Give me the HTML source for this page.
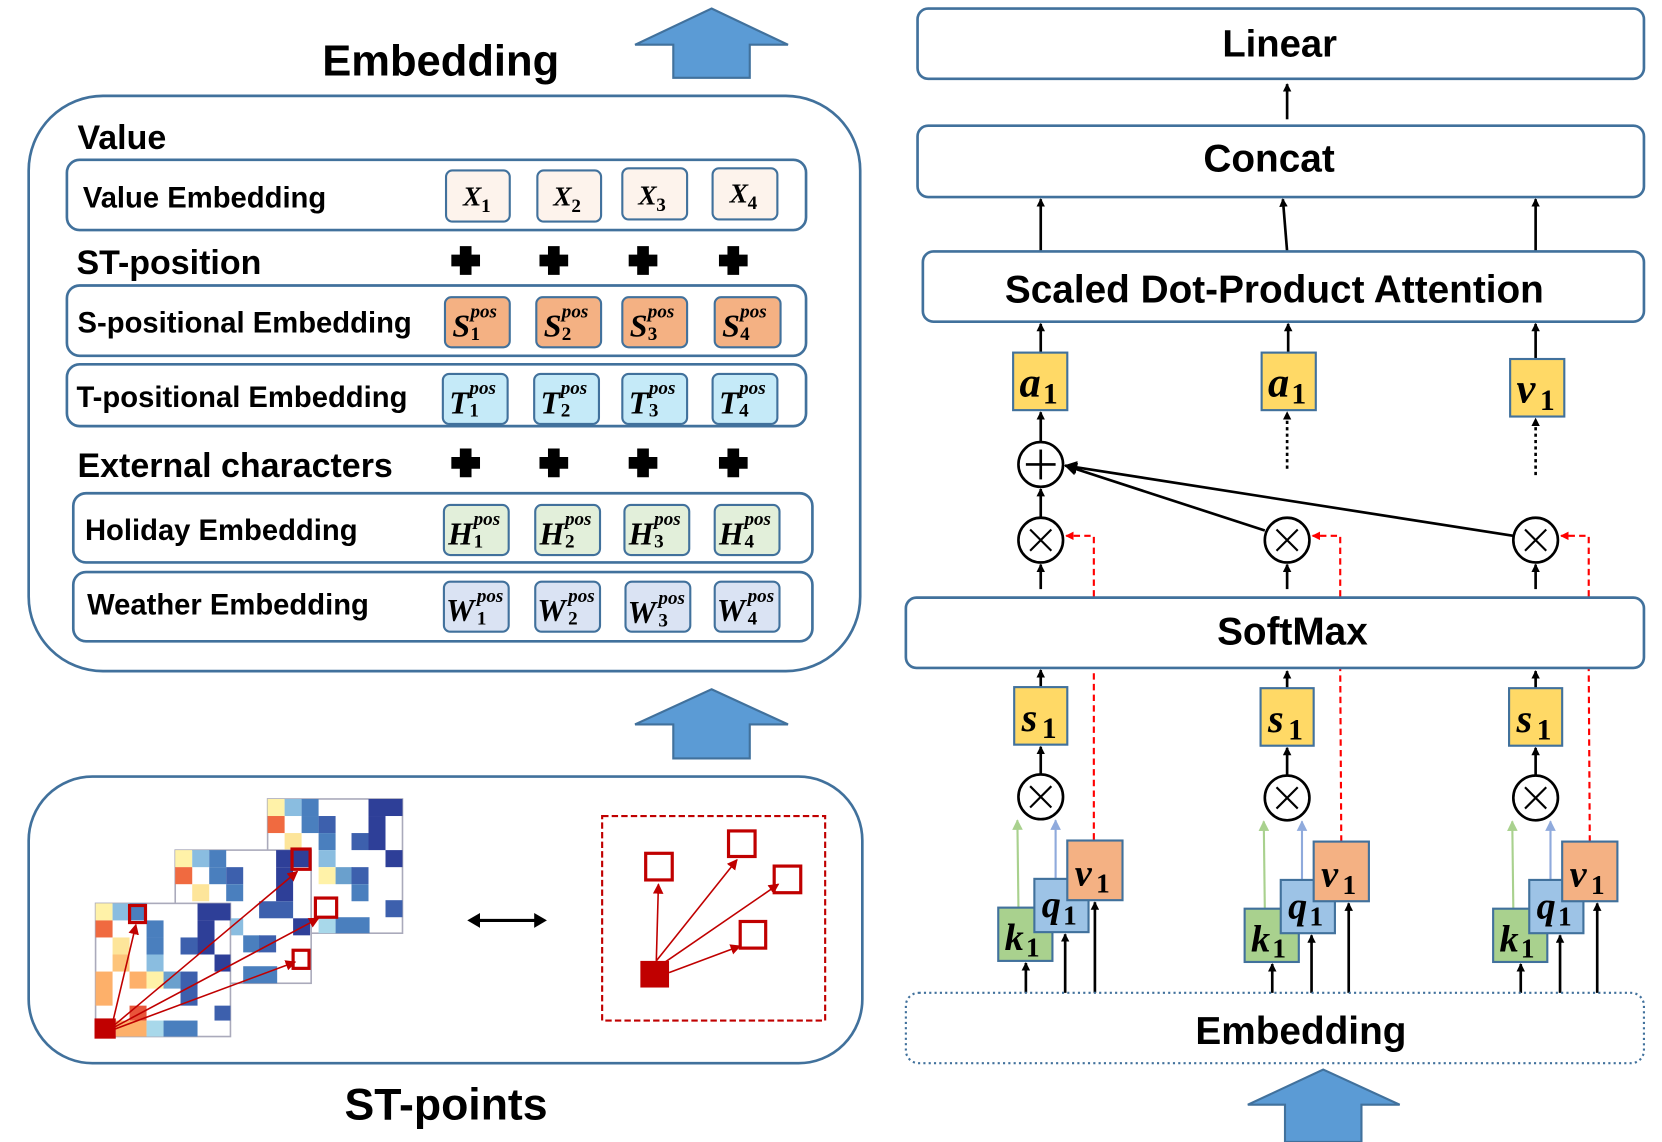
<!DOCTYPE html>
<html><head><meta charset="utf-8"><style>
html,body{margin:0;padding:0;background:#fff;}
svg{display:block;}
.t{font-family:"Liberation Sans",sans-serif;font-weight:bold;fill:#000;}
.m{font-family:"Liberation Serif",serif;font-style:italic;font-weight:bold;fill:#000;}
.n{font-family:"Liberation Serif",serif;font-weight:bold;fill:#000;}
.bx{stroke:#41719c;stroke-width:2.5;fill:#fff;}
.sb{stroke:#41719c;stroke-width:2;}
</style></head><body>
<svg width="1662" height="1142" viewBox="0 0 1565 1072" preserveAspectRatio="none" xmlns="http://www.w3.org/2000/svg">
<defs>
<marker id="ah" markerWidth="8" markerHeight="8" refX="7" refY="4" orient="auto" markerUnits="userSpaceOnUse"><path d="M0,0 L8,4 L0,8 z" fill="#000"/></marker>
<marker id="ar" markerWidth="8" markerHeight="8" refX="7" refY="4" orient="auto" markerUnits="userSpaceOnUse"><path d="M0,0 L8,4 L0,8 z" fill="#f00"/></marker>
<marker id="ag" markerWidth="10" markerHeight="10" refX="9" refY="5" orient="auto" markerUnits="userSpaceOnUse"><path d="M0,0 L10,5 L0,10 z" fill="#a9d18e"/></marker>
<marker id="ab" markerWidth="10" markerHeight="10" refX="9" refY="5" orient="auto" markerUnits="userSpaceOnUse"><path d="M0,0 L10,5 L0,10 z" fill="#8faadc"/></marker>
<marker id="ad" markerWidth="10" markerHeight="10" refX="9" refY="5" orient="auto" markerUnits="userSpaceOnUse"><path d="M0,0 L10,5 L0,10 z" fill="#c00000"/></marker>
<marker id="ak" markerWidth="12" markerHeight="12" refX="11" refY="6" orient="auto" markerUnits="userSpaceOnUse"><path d="M0,0 L12,6 L0,12 z" fill="#000"/></marker>
</defs>

<!-- ===== LEFT ===== -->
<polygon points="670,8 742,42 706,42 706,73 634,73 634,42 598,42" fill="#5b9bd5" stroke="#41719c" stroke-width="2"/>
<text class="t" x="415" y="71" font-size="41" text-anchor="middle">Embedding</text>
<rect class="bx" x="27" y="90" width="783" height="540" rx="70"/>
<text class="t" x="73" y="140" font-size="32">Value</text>

<rect class="bx" x="63" y="150" width="696" height="66" rx="12"/>
<text class="t" x="78" y="195" font-size="27.5">Value Embedding</text>
<g class="sb" fill="#fdf3ec">
<rect x="420" y="160" width="60" height="48" rx="6"/><rect x="506" y="160" width="60" height="48" rx="6"/><rect x="586" y="158" width="61" height="48" rx="6"/><rect x="671" y="158" width="61" height="48" rx="6"/></g>
<g font-size="26">
<text class="m" x="436" y="193">X</text><text class="n" x="453" y="199" font-size="18">1</text>
<text class="m" x="521" y="193">X</text><text class="n" x="538" y="199" font-size="18">2</text>
<text class="m" x="601" y="192">X</text><text class="n" x="618" y="198" font-size="18">3</text>
<text class="m" x="687" y="190">X</text><text class="n" x="704" y="196" font-size="18">4</text></g>

<text class="t" x="72" y="257" font-size="32">ST-position</text>
<g fill="#000">
<path d="M433,231h11v8h8v11h-8v8h-11v-8h-8v-11h8z"/>
<path d="M516,231h11v8h8v11h-8v8h-11v-8h-8v-11h8z"/>
<path d="M600,231h11v8h8v11h-8v8h-11v-8h-8v-11h8z"/>
<path d="M685,231h11v8h8v11h-8v8h-11v-8h-8v-11h8z"/>
<path d="M433,421h11v8h8v11h-8v8h-11v-8h-8v-11h8z"/>
<path d="M516,421h11v8h8v11h-8v8h-11v-8h-8v-11h8z"/>
<path d="M600,421h11v8h8v11h-8v8h-11v-8h-8v-11h8z"/>
<path d="M685,421h11v8h8v11h-8v8h-11v-8h-8v-11h8z"/>
</g>

<rect class="bx" x="63" y="268" width="696" height="66" rx="12"/>
<text class="t" x="73" y="312" font-size="27.5">S-positional Embedding</text>
<g class="sb" fill="#f4b183">
<rect x="419" y="279" width="61" height="47" rx="6"/><rect x="505" y="279" width="61" height="47" rx="6"/><rect x="586" y="279" width="61" height="47" rx="6"/><rect x="673" y="279" width="62" height="47" rx="6"/></g>
<g>
<text class="m" x="426" y="316" font-size="30">S</text><text class="m" x="443" y="298" font-size="18">pos</text><text class="n" x="443" y="319" font-size="18">1</text>
<text class="m" x="512" y="316" font-size="30">S</text><text class="m" x="529" y="298" font-size="18">pos</text><text class="n" x="529" y="319" font-size="18">2</text>
<text class="m" x="593" y="316" font-size="30">S</text><text class="m" x="610" y="298" font-size="18">pos</text><text class="n" x="610" y="319" font-size="18">3</text>
<text class="m" x="680" y="316" font-size="30">S</text><text class="m" x="697" y="298" font-size="18">pos</text><text class="n" x="697" y="319" font-size="18">4</text>
</g>

<rect class="bx" x="63" y="342" width="696" height="58" rx="12"/>
<text class="t" x="72" y="382" font-size="27.5">T-positional Embedding</text>
<g class="sb" fill="#c5eaf8">
<rect x="417" y="351" width="61" height="47" rx="6"/><rect x="503" y="351" width="61" height="47" rx="6"/><rect x="586" y="351" width="61" height="47" rx="6"/><rect x="671" y="351" width="61" height="47" rx="6"/></g>
<g>
<text class="m" x="423" y="388" font-size="30">T</text><text class="m" x="442" y="370" font-size="18">pos</text><text class="n" x="442" y="391" font-size="18">1</text>
<text class="m" x="509" y="388" font-size="30">T</text><text class="m" x="528" y="370" font-size="18">pos</text><text class="n" x="528" y="391" font-size="18">2</text>
<text class="m" x="592" y="388" font-size="30">T</text><text class="m" x="611" y="370" font-size="18">pos</text><text class="n" x="611" y="391" font-size="18">3</text>
<text class="m" x="677" y="388" font-size="30">T</text><text class="m" x="696" y="370" font-size="18">pos</text><text class="n" x="696" y="391" font-size="18">4</text>
</g>

<text class="t" x="73" y="448" font-size="32">External characters</text>

<rect class="bx" x="69" y="463" width="696" height="65" rx="12"/>
<text class="t" x="80" y="507" font-size="27.5">Holiday Embedding</text>
<g class="sb" fill="#e2efda">
<rect x="418" y="474" width="61" height="47" rx="6"/><rect x="504" y="474" width="61" height="47" rx="6"/><rect x="588" y="474" width="61" height="47" rx="6"/><rect x="673" y="474" width="61" height="47" rx="6"/></g>
<g>
<text class="m" x="422" y="511" font-size="30">H</text><text class="m" x="446" y="493" font-size="18">pos</text><text class="n" x="446" y="514" font-size="18">1</text>
<text class="m" x="508" y="511" font-size="30">H</text><text class="m" x="532" y="493" font-size="18">pos</text><text class="n" x="532" y="514" font-size="18">2</text>
<text class="m" x="592" y="511" font-size="30">H</text><text class="m" x="616" y="493" font-size="18">pos</text><text class="n" x="616" y="514" font-size="18">3</text>
<text class="m" x="677" y="511" font-size="30">H</text><text class="m" x="701" y="493" font-size="18">pos</text><text class="n" x="701" y="514" font-size="18">4</text>
</g>

<rect class="bx" x="69" y="537" width="696" height="65" rx="12"/>
<text class="t" x="82" y="577" font-size="27.5">Weather Embedding</text>
<g class="sb" fill="#dae3f3">
<rect x="418" y="546" width="61" height="47" rx="6"/><rect x="504" y="546" width="61" height="47" rx="6"/><rect x="589" y="546" width="61" height="47" rx="6"/><rect x="673" y="546" width="61" height="47" rx="6"/></g>
<g>
<text class="m" x="420" y="583" font-size="30">W</text><text class="m" x="449" y="565" font-size="18">pos</text><text class="n" x="449" y="586" font-size="18">1</text>
<text class="m" x="506" y="583" font-size="30">W</text><text class="m" x="535" y="565" font-size="18">pos</text><text class="n" x="535" y="586" font-size="18">2</text>
<text class="m" x="591" y="585" font-size="30">W</text><text class="m" x="620" y="567" font-size="18">pos</text><text class="n" x="620" y="588" font-size="18">3</text>
<text class="m" x="675" y="583" font-size="30">W</text><text class="m" x="704" y="565" font-size="18">pos</text><text class="n" x="704" y="586" font-size="18">4</text>
</g>

<polygon points="670,647 742,680 706,680 706,712 634,712 634,680 598,680" fill="#5b9bd5" stroke="#41719c" stroke-width="2"/>

<rect class="bx" x="27" y="729" width="785" height="269" rx="60"/>
<g>
<rect x="252" y="750" width="127" height="126" fill="#fff" stroke="#aab" stroke-width="1.5"/>
<rect x="252" y="750" width="16" height="16" fill="#fff2a8"/><rect x="268" y="750" width="16" height="16" fill="#8abde0"/><rect x="284" y="750" width="16" height="16" fill="#4a7fbe"/>
<rect x="347" y="750" width="32" height="16" fill="#2e3f98"/><rect x="252" y="766" width="16" height="16" fill="#f06a40"/><rect x="284" y="766" width="16" height="16" fill="#4a7fbe"/><rect x="300" y="766" width="16" height="16" fill="#3d60ad"/>
<rect x="347" y="766" width="16" height="32" fill="#2e3f98"/><rect x="268" y="782" width="16" height="16" fill="#fde59a"/><rect x="300" y="782" width="16" height="16" fill="#4a7fbe"/><rect x="331" y="782" width="16" height="16" fill="#3d60ad"/>
<rect x="363" y="798" width="16" height="16" fill="#2e3f98"/><rect x="300" y="798" width="16" height="16" fill="#8abde0"/><rect x="300" y="814" width="16" height="16" fill="#fff2a8"/><rect x="316" y="814" width="16" height="16" fill="#6aa0cd"/><rect x="331" y="814" width="16" height="16" fill="#3d60ad"/>
<rect x="363" y="845" width="16" height="16" fill="#3d60ad"/><rect x="331" y="830" width="16" height="16" fill="#4a7fbe"/><rect x="300" y="861" width="16" height="15" fill="#a8d8ea"/><rect x="316" y="861" width="32" height="15" fill="#4a7fbe"/>
</g>
<g>
<rect x="165" y="798" width="128" height="125" fill="#fff" stroke="#aab" stroke-width="1.5"/>
<rect x="165" y="798" width="16" height="16" fill="#fff2a8"/><rect x="181" y="798" width="16" height="16" fill="#8abde0"/><rect x="197" y="798" width="16" height="16" fill="#4a7fbe"/>
<rect x="260" y="798" width="32" height="16" fill="#2e3f98"/><rect x="165" y="814" width="16" height="16" fill="#f06a40"/><rect x="197" y="814" width="16" height="16" fill="#4a7fbe"/><rect x="213" y="814" width="16" height="16" fill="#3d60ad"/>
<rect x="260" y="814" width="16" height="32" fill="#2e3f98"/><rect x="181" y="830" width="16" height="16" fill="#fde59a"/><rect x="213" y="830" width="16" height="16" fill="#4a7fbe"/><rect x="244" y="846" width="32" height="16" fill="#3d60ad"/>
<rect x="276" y="862" width="16" height="16" fill="#2e3f98"/><rect x="213" y="862" width="16" height="16" fill="#8abde0"/><rect x="229" y="878" width="16" height="16" fill="#4a7fbe"/><rect x="244" y="878" width="16" height="16" fill="#3d60ad"/>
<rect x="229" y="907" width="32" height="16" fill="#4a7fbe"/>
</g>
<g>
<rect x="90" y="848" width="127" height="125" fill="#fff" stroke="#aab" stroke-width="1.5"/>
<rect x="90" y="848" width="16" height="16" fill="#fff2a8"/><rect x="106" y="848" width="16" height="16" fill="#8abde0"/><rect x="122" y="848" width="16" height="16" fill="#4a7fbe"/>
<rect x="186" y="848" width="31" height="16" fill="#2e3f98"/><rect x="90" y="864" width="16" height="16" fill="#f06a40"/><rect x="138" y="864" width="16" height="16" fill="#4a7fbe"/>
<rect x="186" y="864" width="16" height="32" fill="#2e3f98"/><rect x="106" y="880" width="16" height="16" fill="#fde59a"/><rect x="138" y="880" width="16" height="16" fill="#4a7fbe"/><rect x="170" y="880" width="16" height="16" fill="#3d60ad"/>
<rect x="106" y="896" width="16" height="16" fill="#fdc47a"/><rect x="138" y="896" width="16" height="16" fill="#8abde0"/><rect x="202" y="896" width="15" height="16" fill="#2e3f98"/>
<rect x="90" y="912" width="16" height="32" fill="#fdb06a"/><rect x="122" y="912" width="16" height="16" fill="#fdb06a"/><rect x="138" y="912" width="16" height="16" fill="#fff2a8"/><rect x="154" y="912" width="16" height="16" fill="#6aa0cd"/><rect x="170" y="912" width="16" height="32" fill="#3d60ad"/>
<rect x="122" y="944" width="16" height="14" fill="#e8553a"/><rect x="202" y="944" width="15" height="14" fill="#3d60ad"/>
<rect x="109" y="958" width="29" height="15" fill="#fdb06a"/><rect x="138" y="958" width="16" height="15" fill="#a8d8ea"/><rect x="154" y="958" width="32" height="15" fill="#4a7fbe"/>
</g>
<g fill="none" stroke="#c00000" stroke-width="3">
<rect x="122" y="850" width="15" height="16"/><rect x="275" y="797" width="17" height="19"/><rect x="297" y="843" width="20" height="18"/><rect x="276" y="892" width="15" height="17"/>
</g>
<rect x="89" y="956" width="20" height="19" fill="#c00000"/>
<g stroke="#c00000" stroke-width="1.5">
<line x1="106" y1="960" x2="128" y2="868" marker-end="url(#ad)"/>
<line x1="108" y1="962" x2="280" y2="818" marker-end="url(#ad)"/>
<line x1="108" y1="964" x2="300" y2="862" marker-end="url(#ad)"/>
<line x1="108" y1="966" x2="278" y2="903" marker-end="url(#ad)"/>
</g>
<line x1="450" y1="864" x2="505" y2="864" stroke="#000" stroke-width="3"/>
<polygon points="440,864 452,857 452,871" fill="#000"/><polygon points="515,864 503,857 503,871" fill="#000"/>
<rect x="567" y="766" width="210" height="192" fill="none" stroke="#c00000" stroke-width="2" stroke-dasharray="6,3"/>
<g fill="none" stroke="#c00000" stroke-width="3">
<rect x="608" y="801" width="25" height="25"/><rect x="686" y="780" width="25" height="24"/><rect x="729" y="813" width="25" height="25"/><rect x="697" y="865" width="24" height="25"/>
</g>
<rect x="603" y="902" width="27" height="25" fill="#c00000"/>
<g stroke="#c00000" stroke-width="1.5">
<line x1="618" y1="902" x2="620" y2="830" marker-end="url(#ad)"/>
<line x1="618" y1="902" x2="694" y2="807" marker-end="url(#ad)"/>
<line x1="622" y1="906" x2="733" y2="830" marker-end="url(#ad)"/>
<line x1="630" y1="913" x2="697" y2="888" marker-end="url(#ad)"/>
</g>
<text class="t" x="420" y="1051" font-size="42" text-anchor="middle">ST-points</text>

<!-- ===== RIGHT ===== -->
<rect class="bx" x="864" y="8" width="684" height="66" rx="10"/>
<text class="t" x="1205" y="53" font-size="36" text-anchor="middle">Linear</text>
<line x1="1212" y1="112" x2="1212" y2="79" stroke="#000" stroke-width="2.5" marker-end="url(#ah)"/>
<rect class="bx" x="864" y="118" width="684" height="67" rx="10"/>
<text class="t" x="1195" y="161" font-size="36.5" text-anchor="middle">Concat</text>
<g stroke="#000" stroke-width="2.5">
<line x1="980" y1="236" x2="980" y2="187" marker-end="url(#ah)"/>
<line x1="1212" y1="236" x2="1208" y2="187" marker-end="url(#ah)"/>
<line x1="1446" y1="236" x2="1446" y2="187" marker-end="url(#ah)"/>
</g>
<rect class="bx" x="869" y="236" width="679" height="66" rx="10"/>
<text class="t" x="1200" y="284" font-size="36.5" text-anchor="middle">Scaled Dot-Product Attention</text>
<g stroke="#000" stroke-width="2.5">
<line x1="980" y1="331" x2="980" y2="304" marker-end="url(#ah)"/>
<line x1="1213" y1="331" x2="1213" y2="304" marker-end="url(#ah)"/>
<line x1="1446" y1="337" x2="1446" y2="304" marker-end="url(#ah)"/>
</g>
<g class="sb" fill="#ffd966">
<rect x="954" y="331" width="51" height="54"/><rect x="1188" y="331" width="51" height="54"/><rect x="1422" y="337" width="51" height="54"/>
</g>
<g>
<text class="m" x="960" y="372" font-size="40">a</text><text class="n" x="982" y="379" font-size="28">1</text>
<text class="m" x="1194" y="372" font-size="40">a</text><text class="n" x="1216" y="379" font-size="28">1</text>
<text class="m" x="1428" y="378" font-size="40">v</text><text class="n" x="1450" y="385" font-size="28">1</text>
</g>
<g stroke="#000" stroke-width="2.5" fill="#fff">
<line x1="980" y1="415" x2="980" y2="387" marker-end="url(#ah)"/>
<line x1="1212" y1="440" x2="1212" y2="387" stroke-dasharray="3,3" marker-end="url(#ah)"/>
<line x1="1446" y1="446" x2="1446" y2="393" stroke-dasharray="3,3" marker-end="url(#ah)"/>
<line x1="980" y1="486" x2="980" y2="459" marker-end="url(#ah)"/>
<line x1="1191" y1="498" x2="1003" y2="437" marker-end="url(#ak)"/>
<line x1="1425" y1="503" x2="1003" y2="437" marker-end="url(#ak)"/>
<circle cx="980" cy="436" r="21"/>
<line x1="966" y1="436" x2="994" y2="436"/><line x1="980" y1="422" x2="980" y2="450"/>
<circle cx="980" cy="507" r="21"/><circle cx="1212" cy="507" r="21"/><circle cx="1446" cy="507" r="21"/>
<path d="M970,497 L990,517 M990,497 L970,517 M1202,497 L1222,517 M1222,497 L1202,517 M1436,497 L1456,517 M1456,497 L1436,517" stroke-width="2"/>
<line x1="980" y1="553" x2="980" y2="530" marker-end="url(#ah)"/>
<line x1="1212" y1="553" x2="1212" y2="530" marker-end="url(#ah)"/>
<line x1="1446" y1="553" x2="1446" y2="530" marker-end="url(#ah)"/>
</g>
<g stroke="#f00" stroke-width="2" stroke-dasharray="6,4" fill="none">
<path d="M1030,560 V503 H1004" marker-end="url(#ar)"/>
<path d="M1262,560 V503 H1236" marker-end="url(#ar)"/>
<path d="M1496,560 V503 H1470" marker-end="url(#ar)"/>
<line x1="1030" y1="788" x2="1030" y2="628"/>
<line x1="1263" y1="790" x2="1262" y2="628"/>
<line x1="1497" y1="790" x2="1496" y2="628"/>
</g>

<rect class="bx" x="853" y="561" width="695" height="66" rx="10"/>
<text class="t" x="1217" y="605" font-size="36.5" text-anchor="middle">SoftMax</text>

<g>
<g stroke="#000" stroke-width="2.5">
<line x1="980" y1="645" x2="980" y2="629" marker-end="url(#ah)"/>
<line x1="980" y1="727" x2="980" y2="701" marker-end="url(#ah)"/>
<line x1="966" y1="932" x2="966" y2="904" marker-end="url(#ah)"/>
<line x1="1003" y1="932" x2="1003" y2="877" marker-end="url(#ah)"/>
<line x1="1031" y1="932" x2="1031" y2="847" marker-end="url(#ah)"/>
</g>
<rect class="sb" x="955" y="645" width="50" height="54" fill="#ffd966"/>
<text class="m" x="962" y="686" font-size="38">s</text><text class="n" x="981" y="693" font-size="28">1</text>
<circle cx="980" cy="748" r="21" fill="#fff" stroke="#000" stroke-width="2.5"/>
<path d="M970,738 L990,758 M990,738 L970,758" stroke="#000" stroke-width="2"/>
<line x1="959" y1="852" x2="958" y2="770" stroke="#a9d18e" stroke-width="2" marker-end="url(#ag)"/>
<line x1="994" y1="825" x2="994" y2="770" stroke="#8faadc" stroke-width="2" marker-end="url(#ab)"/>
<rect class="sb" x="940" y="852" width="51" height="50" fill="#a9d18e"/>
<rect class="sb" x="974" y="825" width="51" height="50" fill="#9dc3e6"/>
<rect class="sb" x="1005" y="789" width="52" height="56" fill="#f4b183"/>
<text class="m" x="946" y="892" font-size="36">k</text><text class="n" x="966" y="898" font-size="26">1</text>
<text class="m" x="981" y="861" font-size="36">q</text><text class="n" x="1001" y="868" font-size="26">1</text>
<text class="m" x="1012" y="831" font-size="36">v</text><text class="n" x="1032" y="838" font-size="26">1</text>
</g>
<g transform="translate(232,1)">
<g stroke="#000" stroke-width="2.5">
<line x1="980" y1="645" x2="980" y2="629" marker-end="url(#ah)"/>
<line x1="980" y1="727" x2="980" y2="701" marker-end="url(#ah)"/>
<line x1="966" y1="931" x2="966" y2="904" marker-end="url(#ah)"/>
<line x1="1003" y1="931" x2="1003" y2="877" marker-end="url(#ah)"/>
<line x1="1038" y1="931" x2="1038" y2="847" marker-end="url(#ah)"/>
</g>
<rect class="sb" x="955" y="645" width="50" height="54" fill="#ffd966"/>
<text class="m" x="962" y="686" font-size="38">s</text><text class="n" x="981" y="693" font-size="28">1</text>
<circle cx="980" cy="748" r="21" fill="#fff" stroke="#000" stroke-width="2.5"/>
<path d="M970,738 L990,758 M990,738 L970,758" stroke="#000" stroke-width="2"/>
<line x1="959" y1="852" x2="958" y2="770" stroke="#a9d18e" stroke-width="2" marker-end="url(#ag)"/>
<line x1="994" y1="825" x2="994" y2="770" stroke="#8faadc" stroke-width="2" marker-end="url(#ab)"/>
<rect class="sb" x="940" y="852" width="51" height="50" fill="#a9d18e"/>
<rect class="sb" x="974" y="825" width="51" height="50" fill="#9dc3e6"/>
<rect class="sb" x="1005" y="789" width="52" height="56" fill="#f4b183"/>
<text class="m" x="946" y="892" font-size="36">k</text><text class="n" x="966" y="898" font-size="26">1</text>
<text class="m" x="981" y="861" font-size="36">q</text><text class="n" x="1001" y="868" font-size="26">1</text>
<text class="m" x="1012" y="831" font-size="36">v</text><text class="n" x="1032" y="838" font-size="26">1</text>
</g>
<g transform="translate(466,1)">
<g stroke="#000" stroke-width="2.5">
<line x1="980" y1="645" x2="980" y2="629" marker-end="url(#ah)"/>
<line x1="980" y1="727" x2="980" y2="701" marker-end="url(#ah)"/>
<line x1="966" y1="931" x2="966" y2="904" marker-end="url(#ah)"/>
<line x1="1003" y1="931" x2="1003" y2="877" marker-end="url(#ah)"/>
<line x1="1038" y1="931" x2="1038" y2="847" marker-end="url(#ah)"/>
</g>
<rect class="sb" x="955" y="645" width="50" height="54" fill="#ffd966"/>
<text class="m" x="962" y="686" font-size="38">s</text><text class="n" x="981" y="693" font-size="28">1</text>
<circle cx="980" cy="748" r="21" fill="#fff" stroke="#000" stroke-width="2.5"/>
<path d="M970,738 L990,758 M990,738 L970,758" stroke="#000" stroke-width="2"/>
<line x1="959" y1="852" x2="958" y2="770" stroke="#a9d18e" stroke-width="2" marker-end="url(#ag)"/>
<line x1="994" y1="825" x2="994" y2="770" stroke="#8faadc" stroke-width="2" marker-end="url(#ab)"/>
<rect class="sb" x="940" y="852" width="51" height="50" fill="#a9d18e"/>
<rect class="sb" x="974" y="825" width="51" height="50" fill="#9dc3e6"/>
<rect class="sb" x="1005" y="789" width="52" height="56" fill="#f4b183"/>
<text class="m" x="946" y="892" font-size="36">k</text><text class="n" x="966" y="898" font-size="26">1</text>
<text class="m" x="981" y="861" font-size="36">q</text><text class="n" x="1001" y="868" font-size="26">1</text>
<text class="m" x="1012" y="831" font-size="36">v</text><text class="n" x="1032" y="838" font-size="26">1</text>
</g>

<rect x="853" y="932" width="695" height="66" rx="12" fill="none" stroke="#41719c" stroke-width="2" stroke-dasharray="2,3"/>
<text class="t" x="1225" y="980" font-size="36.5" text-anchor="middle">Embedding</text>
<polygon points="1246,1004 1318,1037 1282,1037 1282,1072 1210,1072 1210,1037 1175,1037" fill="#5b9bd5" stroke="#41719c" stroke-width="2"/>
</svg>
</body></html>
